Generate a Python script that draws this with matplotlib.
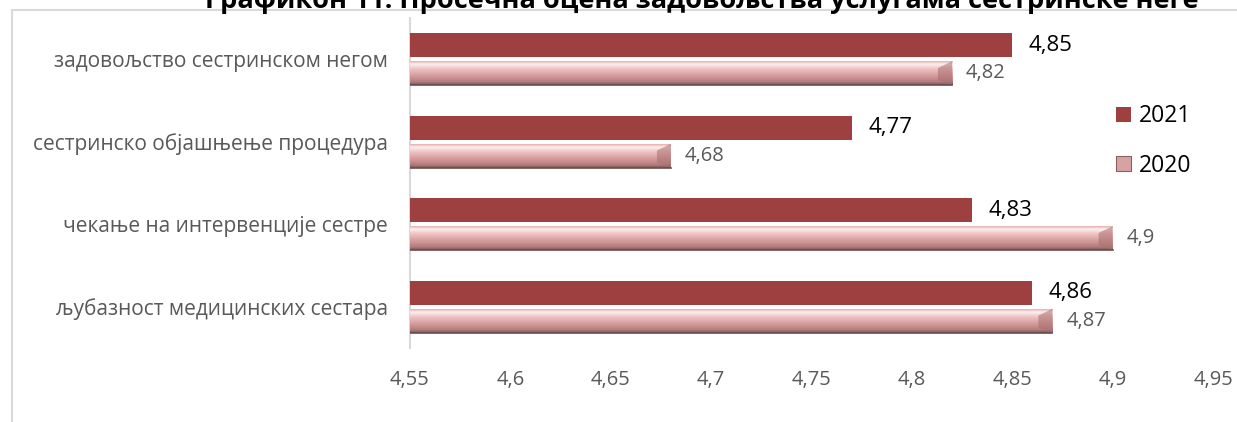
"""
Average satisfaction with nursing care services, 2020 vs 2021.
"""

import numpy as np
import matplotlib.pyplot as plt
from matplotlib.colors import LinearSegmentedColormap
from matplotlib.patches import Patch, Rectangle, Polygon

# Data (bottom to top)
categories = ['љубазност медицинских сестара',
              'чекање на интервенције сестре',
              'сестринско објашњење процедура',
              'задовољство сестринском негом']
values_2021 = [4.86, 4.83, 4.77, 4.85]
values_2020 = [4.87, 4.90, 4.68, 4.82]
value_labels_2021 = ['4,86', '4,83', '4,77', '4,85']
value_labels_2020 = ['4,87', '4,9', '4,68', '4,82']
x_ticks = [4.55, 4.6, 4.65, 4.7, 4.75, 4.8, 4.85, 4.9, 4.95]
x_tick_labels = ['4,55', '4,6', '4,65', '4,7', '4,75', '4,8', '4,85', '4,9', '4,95']
title = 'Графикон 11. Просечна оцена задовољства услугама сестринске неге'

plt.rcParams['font.family'] = ['Open Sans', 'DejaVu Sans']

DARK_RED = '#9e4040'
GRAY_TEXT = '#595959'
X_MIN, X_MAX = 4.55, 4.95
BAR_H = 0.29
OFFSET = 0.17

# vertical gradient for the bevelled 2020 bars (top -> bottom)
bevel_cmap = LinearSegmentedColormap.from_list('bevel', [
    (0.0, '#e6b0b0'), (0.12, '#fdf0f0'), (0.32, '#efc3c3'),
    (0.62, '#d49b9b'), (0.88, '#b27b7b'), (1.0, '#7a5656')])

fig = plt.figure(figsize=(12.37, 4.22), dpi=100)
ax = fig.add_axes([410 / 1237, 74 / 422, 803 / 1237, 330 / 422])

y = np.arange(len(categories))

bars21 = ax.barh(y + OFFSET, np.array(values_2021) - X_MIN, left=X_MIN,
                 height=BAR_H, color=DARK_RED, label='2021', zorder=3)
bars20 = ax.barh(y - OFFSET, np.array(values_2020) - X_MIN, left=X_MIN,
                 height=BAR_H, color='none', edgecolor='none', label='2020', zorder=3)

grad = np.linspace(0, 1, 64).reshape(-1, 1)
bevel_w = 0.007
for b in bars20:
    x0, yb = b.get_x(), b.get_y()
    x1, yt = x0 + b.get_width(), yb + b.get_height()
    im = ax.imshow(grad, cmap=bevel_cmap, aspect='auto', origin='upper',
                   extent=[x0, x1, yb, yt], zorder=3, interpolation='bilinear')
    im.set_clip_path(b)
    # darker bevel at the right end
    hh = b.get_height()
    ax.add_patch(Polygon([(x1, yt), (x1 - bevel_w, yt - hh * 0.28),
                          (x1 - bevel_w, yb + hh * 0.22), (x1, yb)],
                         closed=True, facecolor='#a86e6e', alpha=0.55,
                         edgecolor='none', zorder=4))
    ax.plot([x0, x1], [yb, yb], color='#6e4c4c', lw=1.2, zorder=4)

for b, lab in zip(bars21, value_labels_2021):
    ax.annotate(lab, (b.get_x() + b.get_width(), b.get_y() + b.get_height() / 2),
                xytext=(12, 0), textcoords='offset points', va='center', ha='left',
                fontsize=16, color='black')
for b, lab in zip(bars20, value_labels_2020):
    ax.annotate(lab, (b.get_x() + b.get_width(), b.get_y() + b.get_height() / 2),
                xytext=(10, 0), textcoords='offset points', va='center', ha='left',
                fontsize=14.5, color=GRAY_TEXT)

ax.set_xlim(X_MIN, X_MAX)
ax.set_ylim(-0.5, len(categories) - 0.5)
ax.set_xticks(x_ticks)
ax.set_xticklabels(x_tick_labels, fontsize=14.5, color=GRAY_TEXT)
ax.set_yticks(y)
ax.set_yticklabels(categories, fontsize=15, color=GRAY_TEXT)
ax.tick_params(axis='both', length=0)
ax.tick_params(axis='x', pad=16)
ax.tick_params(axis='y', pad=16)
for side in ['top', 'right', 'bottom']:
    ax.spines[side].set_visible(False)
ax.spines['left'].set_color('#d9d9d9')
ax.spines['left'].set_linewidth(1.5)

handles = [Patch(facecolor=DARK_RED, edgecolor='none'),
           Patch(facecolor='#d8a2a2', edgecolor='#8a6060', linewidth=0.8)]
fig.legend(handles, ['2021', '2020'], loc='center left',
           bbox_to_anchor=(1095 / 1237, 1 - 141 / 422), frameon=False,
           fontsize=16.5, handlelength=0.66, handleheight=0.66,
           handletextpad=0.35, labelspacing=1.1)

# outer chart frame and the clipped title
fig.patches.append(Rectangle((12 / 1237, -0.1), 1.2, 1.1 - 10 / 422,
                             transform=fig.transFigure, fill=False,
                             edgecolor='#d9d9d9', linewidth=1.5))
fig.text(702 / 1237, 1 - 8 / 422, title, ha='center', va='baseline',
         fontsize=19.5, fontweight='bold', color='black')

fig.savefig('out.png', dpi=100)
